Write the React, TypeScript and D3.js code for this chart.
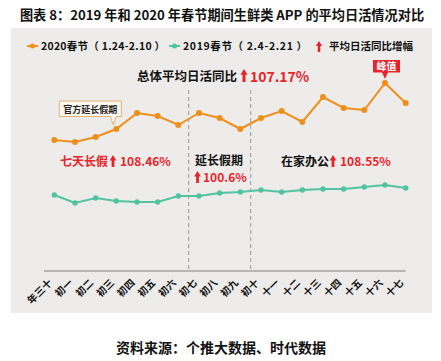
import * as d3 from "d3";

const categories = [
  "年三十", "初一", "初二", "初三", "初四", "初五", "初六", "初七", "初八",
  "初九", "初十", "十一", "十二", "十三", "十四", "十五", "十六", "十七",
];
// estimated daily active users (relative units)
const dau2020 = [131, 129, 134, 142, 158, 155, 146, 158, 153, 142, 153, 160, 149, 174, 163, 161, 188, 168];
const dau2019 = [76, 68, 73, 70, 69, 69, 75, 75, 78, 79, 81, 79, 81, 82, 82, 84, 86, 83];
const periodEnds = ["初六", "初九"];

const seriesNames = ["2020春节（ 1.24-2.10 ）", "2019春节（ 2.4-2.21 ）"];
const legendArrowLabel = "平均日活同比增幅";
const overallLabel = "总体平均日活同比";
const overallValue = "107.17%";
const periods = [
  { name: "七天长假", value: "108.46%" },
  { name: "延长假期", value: "100.6%" },
  { name: "在家办公", value: "108.55%" },
];

const ORANGE = "#EE8F1C";
const TEAL = "#52C3A2";
const RED = "#E8242A";
const FONT = "'Noto Sans CJK SC', 'Noto Sans', sans-serif";

function UpArrow({ x, y, h = 12 }: { x: number; y: number; h?: number }) {
  // x = centre, y = bottom
  const w = h * 0.55;
  const head = h * 0.45;
  const stem = w * 0.42;
  const d = `M${x},${y - h} L${x + w / 2},${y - h + head} L${x + stem / 2},${y - h + head} L${x + stem / 2},${y} L${x - stem / 2},${y} L${x - stem / 2},${y - h + head} L${x - w / 2},${y - h + head} Z`;
  return <path d={d} fill={RED} />;
}

export default function App() {
  const width = 441;
  const height = 361;

  const x = d3.scalePoint<string>().domain(categories).range([44, 416]).padding(0.5);
  const y = d3.scaleLinear().domain([0, 200]).range([271, 71]);
  const step = x.step();

  const line = d3
    .line<number>()
    .x((_, i) => x(categories[i])!)
    .y((d) => y(d));

  const axisY = y(0);
  const breaks = periodEnds.map((c) => x(c)! + step / 2);

  const peakIdx = d3.maxIndex(dau2020);
  const px = x(categories[peakIdx])!;
  const py = y(dau2020[peakIdx]);

  const calloutIdx = 3;
  const cx = x(categories[calloutIdx])!;
  const cy = y(dau2020[calloutIdx]);

  return (
    <svg
      width={width}
      height={height}
      style={{ position: "absolute", left: 0, top: 0, fontFamily: FONT }}
    >
      <rect width={width} height={height} fill="#fff" />
      <text x={222} y={20} textAnchor="middle" fontSize={13.2} fontWeight="bold" fill="#111">
        图表 8：2019 年和 2020 年春节期间生鲜类 APP 的平均日活情况对比
      </text>

      <rect x={11} y={28} width={421} height={285} fill="#EDECEA" />

      {/* legend */}
      <g fontSize={10.5} fontWeight="bold" fill="#111">
        <line x1={27} x2={38} y1={46} y2={46} stroke={ORANGE} strokeWidth={2} />
        <circle cx={32.5} cy={46} r={2.5} fill={ORANGE} />
        <text x={41} y={49.5} textLength={124} lengthAdjust="spacing">{seriesNames[0]}</text>
        <line x1={169} x2={180} y1={46} y2={46} stroke={TEAL} strokeWidth={2} />
        <circle cx={174.5} cy={46} r={2.5} fill={TEAL} />
        <text x={183} y={49.5} textLength={124} lengthAdjust="spacing">{seriesNames[1]}</text>
        <UpArrow x={319} y={52} h={11} />
        <text x={329} y={49.5}>{legendArrowLabel}</text>
      </g>

      {/* period separators */}
      {breaks.map((bx, i) => (
        <line key={i} x1={bx} x2={bx} y1={90} y2={axisY} stroke="#9a9a9a" strokeWidth={1} strokeDasharray="4,3" />
      ))}

      {/* axis */}
      <line x1={x.range()[0]} x2={x(categories[categories.length - 1])!} y1={axisY} y2={axisY} stroke="#808080" strokeWidth={1} />
      <g fontSize={10} fontWeight="bold" fill="#111">
        {categories.map((c) => (
          <text
            key={c}
            transform={`translate(${x(c)! - 4},${axisY + 10}) rotate(-45)`}
            textAnchor="end"
            dy="0.35em"
          >
            {c}
          </text>
        ))}
      </g>

      {/* series */}
      <path d={line(dau2020) || undefined} fill="none" stroke={ORANGE} strokeWidth={2} />
      <path d={line(dau2019) || undefined} fill="none" stroke={TEAL} strokeWidth={2} />
      <g fill={ORANGE}>
        {dau2020.map((d, i) => (
          <circle key={i} cx={x(categories[i])} cy={y(d)} r={3} />
        ))}
      </g>
      <g fill={TEAL}>
        {dau2019.map((d, i) => (
          <circle key={i} cx={x(categories[i])} cy={y(d)} r={2.7} />
        ))}
      </g>

      {/* overall */}
      <text x={137} y={81} fontSize={12.5} fontWeight="bold" fill="#111">{overallLabel}</text>
      <UpArrow x={244} y={82} h={13} />
      <text x={250} y={82} fontSize={14} fontWeight="bold" fill={RED}>{overallValue}</text>

      {/* period labels */}
      <g fontWeight="bold">
        <text x={60} y={166} fontSize={12} fill={RED}>{periods[0].name}</text>
        <UpArrow x={113} y={167} h={12} />
        <text x={120} y={166} fontSize={12} fill={RED}>{periods[0].value}</text>

        <text x={195} y={165} fontSize={12} fill="#111">{periods[1].name}</text>
        <UpArrow x={197.5} y={183} h={12} />
        <text x={203} y={182} fontSize={12} fill={RED}>{periods[1].value}</text>

        <text x={281} y={166} fontSize={12} fill="#111">{periods[2].name}</text>
        <UpArrow x={333} y={167} h={12} />
        <text x={340} y={166} fontSize={12} fill={RED}>{periods[2].value}</text>
      </g>

      {/* callout: 官方延长假期 */}
      <path
        d={`M${cx - 57},101 H${cx + 5} V116.5 H${cx} L${cx - 3},${cy - 4} L${cx - 6},116.5 H${cx - 57} Z`}
        fill="#FBF6EE"
        stroke="#E3B36E"
        strokeWidth={1}
      />
      <text x={cx - 26} y={112.5} textAnchor="middle" fontSize={9} fontWeight="bold" fill="#222">
        官方延长假期
      </text>

      {/* peak label */}
      <path
        d={`M${px - 12},60 H${px + 15} V72.5 H${px + 3} L${px},${py - 4} L${px - 3},72.5 H${px - 12} Z`}
        fill={RED}
      />
      <text x={px + 1.5} y={70} textAnchor="middle" fontSize={10} fontWeight="bold" fill="#fff">
        峰值
      </text>

      <text x={221} y={353} textAnchor="middle" fontSize={14} fontWeight="bold" fill="#111">
        资料来源：个推大数据、时代数据
      </text>
    </svg>
  );
}
